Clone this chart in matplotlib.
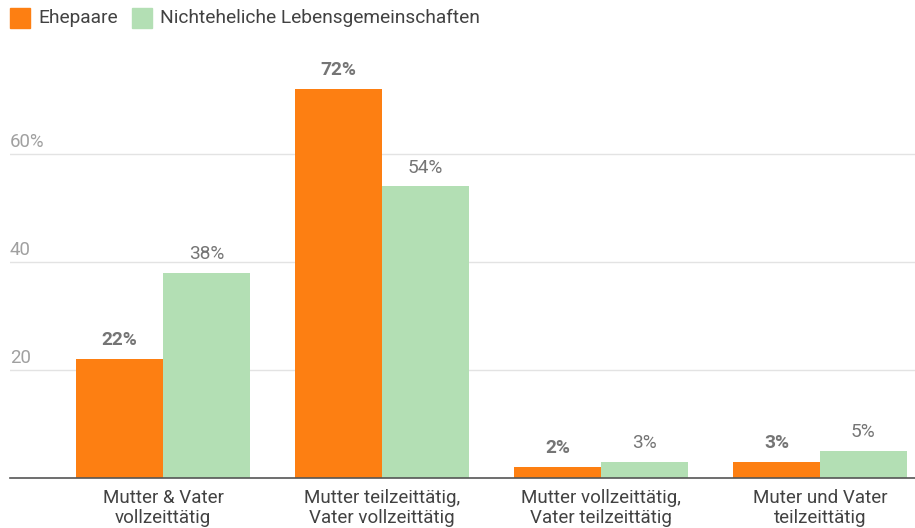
import matplotlib.pyplot as plt
import matplotlib.patches as mpatches
import numpy as np

plt.rcParams['font.family'] = ['Roboto', 'DejaVu Sans']

# === Data ===
categories = ["Mutter & Vater\nvollzeittätig",
              "Mutter teilzeittätig,\nVater vollzeittätig",
              "Mutter vollzeittätig,\nVater teilzeittätig",
              "Muter und Vater\nteilzeittätig"]
ehepaare = [22, 72, 2, 3]
nichtehelich = [38, 54, 3, 5]
series_names = ["Ehepaare", "Nichteheliche Lebensgemeinschaften"]

ORANGE = "#fd7f12"
GREEN = "#b3dfb4"
GRAY = "#757575"

W, H = 915, 528
fig = plt.figure(figsize=(W/100, H/100), dpi=100)
ax = fig.add_axes([10/W, 50/H, 905/W, 432/H])

x = np.arange(len(categories))
w = 0.397
ax.bar(x - w/2, ehepaare, w, color=ORANGE, zorder=2)
ax.bar(x + w/2, nichtehelich, w, color=GREEN, zorder=2)

# value labels
for xi, v in zip(x, ehepaare):
    ax.annotate(f"{v}%", (xi - w/2, v), xytext=(0, 7), textcoords="offset points",
                ha="center", va="bottom", fontsize=13.8, fontweight="bold", color=GRAY)
for xi, v in zip(x, nichtehelich):
    ax.annotate(f"{v}%", (xi + w/2, v), xytext=(0, 7), textcoords="offset points",
                ha="center", va="bottom", fontsize=13.8, color=GRAY)

ax.set_xlim(-0.699, 3.434)
ax.set_ylim(0, 80)

# gridlines + labels sitting above them
for t in [20, 40, 60]:
    ax.axhline(t, color="#e3e3e3", lw=1, zorder=1)
    lab = f"{t}%" if t == 60 else f"{t}"
    ax.annotate(lab, (0, t), xycoords=("axes fraction", "data"), xytext=(0, 2.5),
                textcoords="offset points", ha="left", va="bottom",
                fontsize=13.4, color="#a0a0a0")

ax.set_yticks([])
ax.set_xticks(x)
ax.set_xticklabels(categories, fontsize=13.5, color="#424242", linespacing=1.1)
ax.tick_params(axis="x", length=0, pad=8)
for s in ["top", "right", "left"]:
    ax.spines[s].set_visible(False)
ax.spines["bottom"].set_color("#555555")
ax.spines["bottom"].set_linewidth(1.2)

# === Legend (drawn by hand, top left) ===
legend_colors = [ORANGE, GREEN]
legend_x = [10, 132]
for name, col, lx in zip(series_names, legend_colors, legend_x):
    fig.add_artist(mpatches.Rectangle((lx/W, 1 - 28/H), 20/W, 20/H,
                                      transform=fig.transFigure, color=col))
    fig.text((lx + 28)/W, 1 - 18/H, name, ha="left", va="center",
             fontsize=13.8, color="#424242")

plt.savefig("out.png", dpi=100)
